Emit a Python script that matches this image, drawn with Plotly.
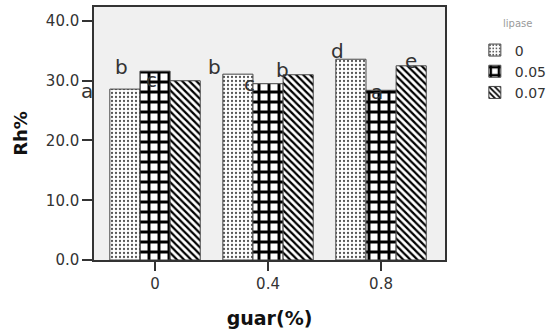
import plotly.graph_objects as go

guar = ["0", "0.4", "0.8"]
lipase = ["0", "0.05", "0.07"]
rh_0 = [28.6, 31.1, 33.6]
rh_005 = [31.6, 29.5, 28.4]
rh_007 = [30.0, 31.0, 32.5]
letters = ["a", "b", "c", "b", "c", "b", "d", "a", "e"]

# letter label placements (paper coordinates)
letter_x = [-0.020, 0.077, 0.165, 0.342, 0.444, 0.538, 0.695, 0.806, 0.903]
letter_y = [0.668, 0.763, 0.711, 0.763, 0.696, 0.751, 0.826, 0.664, 0.787]

FONT = "DejaVu Sans, sans-serif"
TXT = "#333333"

styles = [
    dict(shape=".", fgcolor="#555555", bgcolor="white", size=4, solidity=0.25, fgopacity=1),
    dict(shape="+", fgcolor="black", bgcolor="white", size=10, solidity=0.5, fgopacity=1),
    dict(shape="\\", fgcolor="black", bgcolor="white", size=5, solidity=0.45, fgopacity=1),
]

fig = go.Figure()
for name, vals, st in zip(lipase, [rh_0, rh_005, rh_007], styles):
    fig.add_trace(go.Bar(
        x=guar, y=vals, name=name,
        marker=dict(color="white", pattern=st, line=dict(color="#444444", width=1)),
    ))

annotations = []
for t, ax_, ay_ in zip(letters, letter_x, letter_y):
    annotations.append(dict(text=t, x=ax_, y=ay_, xref="paper", yref="paper",
                            showarrow=False, font=dict(family=FONT, size=20, color=TXT),
                            xanchor="center", yanchor="middle"))
annotations.append(dict(text="lipase", x=1.206, y=0.933, xref="paper", yref="paper",
                        showarrow=False, font=dict(family=FONT, size=10, color="#9a9a9a"),
                        xanchor="center", yanchor="middle"))

fig.update_layout(
    width=547, height=333,
    margin=dict(l=94, r=102, t=7, b=73, autoexpand=False),
    paper_bgcolor="white", plot_bgcolor="#f0f0f0",
    barmode="group", bargap=0.2, bargroupgap=0,
    font=dict(family=FONT, size=15, color=TXT),
    showlegend=True,
    legend=dict(x=1.085, y=0.8915, xanchor="left", yanchor="top",
                font=dict(family=FONT, size=14, color=TXT),
                bgcolor="rgba(0,0,0,0)", itemwidth=30, tracegroupgap=0),
    annotations=annotations,
    xaxis=dict(
        type="category", range=[-0.54, 2.566],
        showline=True, linecolor="#333333", linewidth=1.5, mirror=True,
        ticks="outside", ticklen=9, tickcolor="#333333", tickwidth=1.5,
        showgrid=False, zeroline=False,
        tickfont=dict(family=FONT, size=15, color=TXT),
        title=dict(text="<b>guar(%)</b>", font=dict(family=FONT, size=19, color="#111111"), standoff=20),
    ),
    yaxis=dict(
        range=[0, 42.34], tickvals=[0, 10, 20, 30, 40], tickformat=".1f",
        showline=True, linecolor="#333333", linewidth=1.5, mirror=True,
        ticks="outside", ticklen=10, tickcolor="#333333", tickwidth=1.5,
        showgrid=False, zeroline=False,
        tickfont=dict(family=FONT, size=15, color=TXT),
        title=dict(text="<b>Rh%</b>", font=dict(family=FONT, size=18, color="#111111"), standoff=14),
    ),
)

fig.write_html("out.html", config={"displayModeBar": False},
               post_script="document.body.style.margin='0';document.body.style.overflow='hidden';")
